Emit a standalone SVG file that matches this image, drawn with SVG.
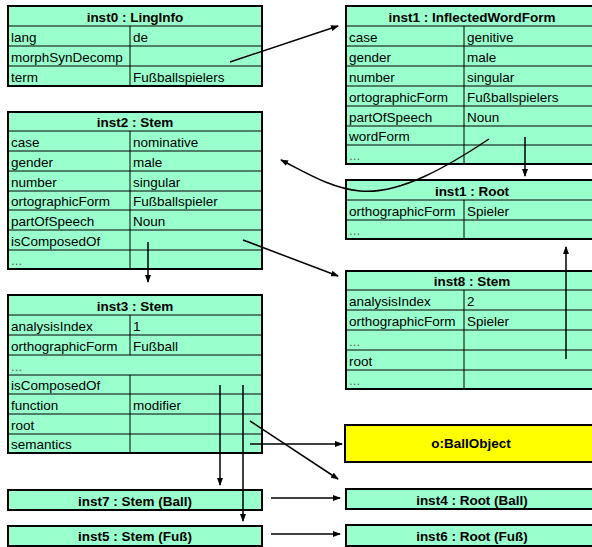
<svg xmlns="http://www.w3.org/2000/svg" width="592" height="547" viewBox="0 0 592 547">
<style>
.box{fill:#99ffcc;stroke:#000;stroke-width:2}
.yel{fill:#ffff00;stroke:#000;stroke-width:2}
.ln{stroke:#000;stroke-width:1;fill:none}
text{font-family:"Liberation Sans",Arial,sans-serif;font-size:13.5px;fill:#000}
.h{font-weight:bold;text-anchor:middle}
.d{fill:#666}
.c{stroke:#000;stroke-width:1.5;fill:none;marker-end:url(#ah)}
</style>
<defs>
<marker id="ah" markerUnits="userSpaceOnUse" markerWidth="8" markerHeight="6" refX="7" refY="3" orient="auto">
<path d="M0,0 L8,3 L0,6 z" fill="#000"/>
</marker>
</defs>
<rect width="592" height="547" fill="#fff"/>

<g id="inst0">
<rect class="box" x="8" y="6" width="254" height="80"/>
<path class="ln" d="M8,26H262M8,46H262M8,66H262M130,26V86"/>
<text class="h" x="135" y="21.5">inst0 : LingInfo</text>
<text x="11" y="41.5">lang</text><text x="133" y="41.5">de</text>
<text x="11" y="61.5">morphSynDecomp</text>
<text x="11" y="81.5">term</text><text x="133" y="81.5">Fußballspielers</text>
</g>

<g id="inst2">
<rect class="box" x="8" y="112" width="254" height="157"/>
<path class="ln" d="M8,131H262M8,151H262M8,171H262M8,191H262M8,210H262M8,230H262M8,250H262M130,131V269"/>
<text class="h" x="135" y="127">inst2 : Stem</text>
<text x="11" y="146.5">case</text><text x="133" y="146.5">nominative</text>
<text x="11" y="166.5">gender</text><text x="133" y="166.5">male</text>
<text x="11" y="186.5">number</text><text x="133" y="186.5">singular</text>
<text x="11" y="206">ortographicForm</text><text x="133" y="206">Fußballspieler</text>
<text x="11" y="225.5">partOfSpeech</text><text x="133" y="225.5">Noun</text>
<text x="11" y="245.5">isComposedOf</text>
<text class="d" x="11" y="265">...</text>
</g>

<g id="inst1-iwf">
<rect class="box" x="346" y="6" width="252" height="158"/>
<path class="ln" d="M346,26H598M346,46H598M346,66H598M346,86H598M346,106H598M346,126H598M346,145H598M464,26V164"/>
<text class="h" x="472" y="21.5">inst1 : InflectedWordForm</text>
<text x="349" y="41.5">case</text><text x="467" y="41.5">genitive</text>
<text x="349" y="61.5">gender</text><text x="467" y="61.5">male</text>
<text x="349" y="81.5">number</text><text x="467" y="81.5">singular</text>
<text x="349" y="101.5">ortographicForm</text><text x="467" y="101.5">Fußballspielers</text>
<text x="349" y="121.5">partOfSpeech</text><text x="467" y="121.5">Noun</text>
<text x="349" y="141">wordForm</text>
<text class="d" x="349" y="160">...</text>
</g>

<g id="inst1-root">
<rect class="box" x="346" y="180" width="252" height="59"/>
<path class="ln" d="M346,200H598M346,220H598M464,200V239"/>
<text class="h" x="472" y="195.5">inst1 : Root</text>
<text x="349" y="215.5">orthographicForm</text><text x="467" y="215.5">Spieler</text>
<text class="d" x="349" y="235">...</text>
</g>

<g id="inst8">
<rect class="box" x="346" y="271" width="252" height="118"/>
<path class="ln" d="M346,290H598M346,310H598M346,330H598M346,350H598M346,370H598M464,290V389"/>
<text class="h" x="472" y="286">inst8 : Stem</text>
<text x="349" y="305.5">analysisIndex</text><text x="467" y="305.5">2</text>
<text x="349" y="325.5">orthographicForm</text><text x="467" y="325.5">Spieler</text>
<text class="d" x="349" y="345.5">...</text>
<text x="349" y="365.5">root</text>
<text class="d" x="349" y="385">...</text>
</g>

<g id="inst3">
<rect class="box" x="8" y="295" width="254" height="158"/>
<path class="ln" d="M8,315H262M8,335H262M8,355H262M8,375H262M8,394H262M8,414H262M8,434H262M130,315V355M130,375V453"/>
<text class="h" x="135" y="310.5">inst3 : Stem</text>
<text x="11" y="330.5">analysisIndex</text><text x="133" y="330.5">1</text>
<text x="11" y="350.5">orthographicForm</text><text x="133" y="350.5">Fußball</text>
<text class="d" x="11" y="370.5">...</text>
<text x="11" y="390">isComposedOf</text>
<text x="11" y="409.5">function</text><text x="133" y="409.5">modifier</text>
<text x="11" y="429.5">root</text>
<text x="11" y="449">semantics</text>
</g>

<g id="ballobject">
<rect class="yel" x="345" y="425" width="253" height="37"/>
<text class="h" x="471" y="448">o:BallObject</text>
</g>

<g id="inst7">
<rect class="box" x="8" y="490" width="254" height="20"/>
<text class="h" x="135" y="505.5">inst7 : Stem (Ball)</text>
</g>

<g id="inst5">
<rect class="box" x="8" y="526" width="254" height="20"/>
<text class="h" x="135" y="541">inst5 : Stem (Fuß)</text>
</g>

<g id="inst4">
<rect class="box" x="346" y="489" width="252" height="20"/>
<text class="h" x="472" y="504.5">inst4 : Root (Ball)</text>
</g>

<g id="inst6">
<rect class="box" x="346" y="525" width="252" height="21"/>
<text class="h" x="472" y="540.5">inst6 : Root (Fuß)</text>
</g>

<g id="connectors">
<path class="c" d="M230,62 L338,26"/>
<path class="c" d="M489,139 C450,165 400,195 360,191 C330,188 305,172 281,160"/>
<path class="c" d="M525,137 L525,176"/>
<path class="c" d="M566,359 L566,247"/>
<path class="c" d="M148,242 L148,282"/>
<path class="c" d="M243,240 L338,276"/>
<path class="c" d="M220,385 L220,485"/>
<path class="c" d="M243,385 L243,521"/>
<path class="c" d="M250,421 L338,479"/>
<path class="c" d="M250,444 L342,444"/>
<path class="c" d="M271,498 L340,498"/>
<path class="c" d="M271,534 L340,534"/>
</g>
</svg>
